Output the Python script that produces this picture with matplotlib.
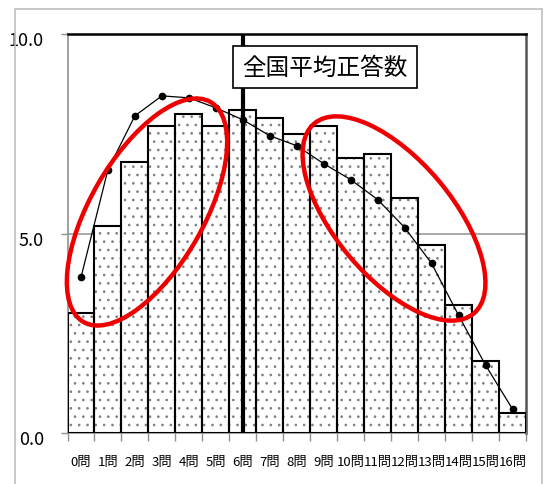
import matplotlib
matplotlib.use("Agg")
import matplotlib.pyplot as plt
from matplotlib.patches import Ellipse, Rectangle
from matplotlib.transforms import ScaledTranslation

# number of correct answers (categories)
categories = ["0問", "1問", "2問", "3問", "4問", "5問", "6問", "7問", "8問",
              "9問", "10問", "11問", "12問", "13問", "14問", "15問", "16問"]

# bar values (this school) and line values (national)
bar_values = [3.0, 5.2, 6.8, 7.7, 8.0, 7.7, 8.1, 7.9, 7.5,
              7.7, 6.9, 7.0, 5.9, 4.7, 3.2, 1.8, 0.5]
line_values = [3.9, 6.6, 7.95, 8.45, 8.4, 8.15, 7.85, 7.45, 7.2,
               6.75, 6.35, 5.85, 5.15, 4.25, 2.95, 1.7, 0.6]

y_ticks = [0.0, 5.0, 10.0]
y_tick_labels = ["0.0", "5.0", "10.0"]

national_mean_pos = 6
mean_label = "全国平均正答数"

plt.rcParams["font.family"] = ["Liberation Sans Narrow", "Noto Sans CJK JP", "DejaVu Sans"]
plt.rcParams["hatch.linewidth"] = 0.7


def main():
    W, H = 546, 485
    fig = plt.figure(figsize=(W / 100, H / 100), dpi=100)
    fig.patch.set_facecolor("white")

    # outer gray frame
    fig.patches.append(Rectangle((14.7 / W, -0.02), (542 - 14.7) / W, 1.02 - 10 / H,
                                 transform=fig.transFigure, fill=False,
                                 edgecolor="#bdbdbd", linewidth=1.2))

    left, right, top, bottom = 67.5, 526, 35, 434
    ax = fig.add_axes([left / W, (H - bottom) / H, (right - left) / W, (bottom - top) / H])

    x = list(range(len(categories)))

    # dotted fill, then black outline
    ax.bar(x, bar_values, width=1.0, color="white", edgecolor="#808080",
           linewidth=0, hatch="..", zorder=2)
    ax.bar(x, bar_values, width=1.0, fill=False, edgecolor="black",
           linewidth=1.5, zorder=3)

    ax.plot(x, line_values, color="black", linewidth=0.9, marker="o",
            markersize=4.5, zorder=4)

    ax.axvline(national_mean_pos, color="black", linewidth=3, zorder=5)

    ax.text(0.5616, 0.917, mean_label, transform=ax.transAxes,
            ha="center", va="center", fontsize=17,
            family=["Noto Sans CJK JP", "DejaVu Sans"],
            bbox=dict(boxstyle="square,pad=0.4", facecolor="white",
                      edgecolor="black", linewidth=1.2), zorder=6)

    ax.set_xlim(-0.5, len(categories) - 0.5)
    ax.set_ylim(0, 10)

    ax.set_yticks(y_ticks)
    ax.set_yticklabels(y_tick_labels, fontsize=13)
    ax.set_xticks(x)
    ax.set_xticklabels(categories, fontsize=9.5)
    ax.set_xticks([i - 0.5 for i in range(len(categories) + 1)], minor=True)

    ax.tick_params(axis="x", which="major", length=0, pad=16)
    ax.tick_params(axis="x", which="minor", length=6, color="#909090", width=1)
    ax.tick_params(axis="y", length=5, color="#909090", width=1, pad=12)

    offset = ScaledTranslation(0, -4 / 100, fig.dpi_scale_trans)
    for lab in ax.get_yticklabels():
        lab.set_transform(lab.get_transform() + offset)

    ax.axhline(5.0, color="#9a9a9a", linewidth=1.2, zorder=1)

    ax.spines["top"].set_color("black")
    ax.spines["top"].set_linewidth(1.8)
    ax.spines["right"].set_color("#555555")
    ax.spines["right"].set_linewidth(1.8)
    ax.spines["left"].set_color("#909090")
    ax.spines["left"].set_linewidth(1.2)
    ax.spines["bottom"].set_color("#909090")
    ax.spines["bottom"].set_linewidth(1.2)

    # red highlight ellipses, drawn in pixel space
    ov = fig.add_axes([0, 0, 1, 1], zorder=10)
    ov.set_xlim(0, W)
    ov.set_ylim(0, H)
    ov.axis("off")
    ov.patch.set_alpha(0)
    ov.add_patch(Ellipse((147, H - 213), 254, 113, angle=60, fill=False,
                         edgecolor="#ee0000", linewidth=3.2))
    ov.add_patch(Ellipse((394, H - 219.5), 248, 117, angle=-50, fill=False,
                         edgecolor="#ee0000", linewidth=3.2))

    fig.savefig("out.png", dpi=100)
    plt.close(fig)


if __name__ == "__main__":
    main()
